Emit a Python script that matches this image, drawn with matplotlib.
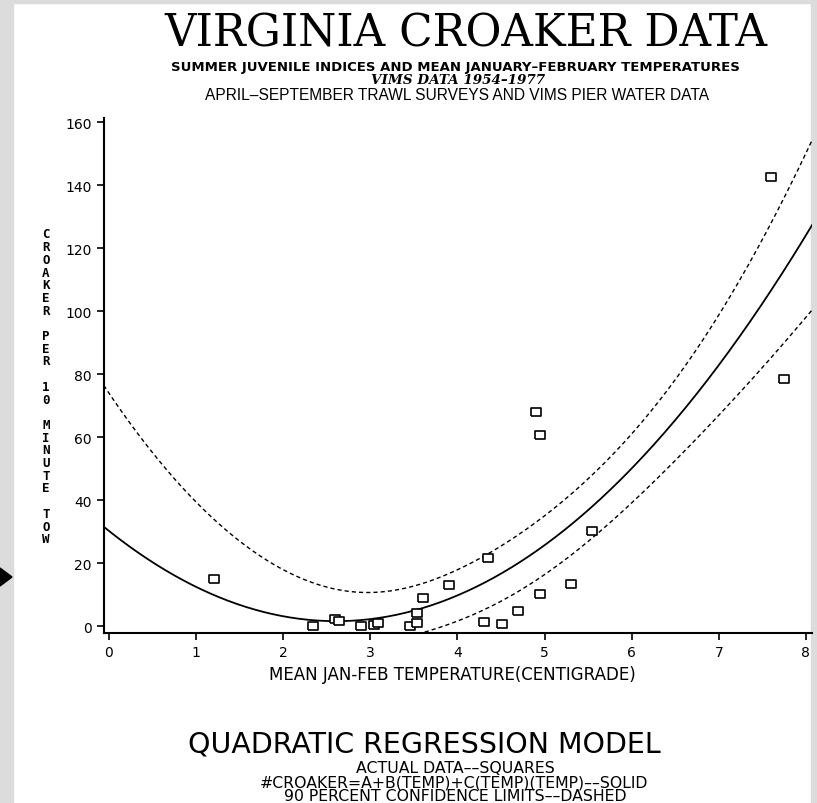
import numpy as np
import matplotlib
matplotlib.use('Agg')
import matplotlib.pyplot as plt
from matplotlib.patches import Rectangle, Polygon

# mean jan-feb temperature (C) and croaker per 10 minute tow
temp = [1.20, 2.34, 2.59, 2.64, 2.89, 3.04, 3.09, 3.45, 3.54, 3.54, 3.60, 3.90,
        4.30, 4.35, 4.51, 4.70, 4.90, 4.95, 4.95, 5.30, 5.55, 7.60, 7.75]
croaker = [14.9, 0.0, 2.1, 1.6, 0.0, 0.4, 1.0, 0.1, 1.0, 4.2, 8.8, 13.1,
           1.2, 21.6, 0.6, 4.7, 68.0, 60.7, 10.1, 13.4, 30.1, 142.5, 78.4]
xticks = [0, 1, 2, 3, 4, 5, 6, 7, 8]
yticks = [0, 20, 40, 60, 80, 100, 120, 140, 160]
t90 = 1.721  # two sided 90 percent t value, n-3 dof

W, H = 817, 804
fig = plt.figure(figsize=(W / 100, H / 100), dpi=100)
fig.patch.set_facecolor('white')

# grey scan border and the little arrow on the left
grey = '#dcdcdc'
fig.add_artist(Rectangle((0, 0), 13 / W, 1, transform=fig.transFigure, color=grey, zorder=0))
fig.add_artist(Rectangle((811 / W, 0), 6 / W, 1, transform=fig.transFigure, color=grey, zorder=0))
fig.add_artist(Rectangle((0, 1 - 4 / H), 1, 4 / H, transform=fig.transFigure, color=grey, zorder=0))
fig.add_artist(Polygon([[0, 1 - 569 / H], [12 / W, 1 - 578 / H], [0, 1 - 587 / H]],
                       closed=True, transform=fig.transFigure, color='black'))

ax = fig.add_axes([104 / W, 1 - 634 / H, 708 / W, 515 / H])
ax.set_facecolor('none')

# quadratic fit and 90% confidence limits
tx = np.array(temp)
cy = np.array(croaker)
X = np.vstack([np.ones_like(tx), tx, tx ** 2]).T
coef, res, rk, sv = np.linalg.lstsq(X, cy, rcond=None)
n = len(tx)
s2 = np.sum((cy - X @ coef) ** 2) / (n - 3)
cov = s2 * np.linalg.inv(X.T @ X)
xs = np.linspace(-0.06, 8.07, 400)
Xs = np.vstack([np.ones_like(xs), xs, xs ** 2]).T
fit = Xs @ coef
se = np.sqrt(np.einsum('ij,jk,ik->i', Xs, cov, Xs))

ax.plot(xs, fit, color='black', lw=1.3)
ax.plot(xs, fit + t90 * se, color='black', lw=1.0, ls=(0, (3, 2.2)))
ax.plot(xs, fit - t90 * se, color='black', lw=1.0, ls=(0, (3, 2.2)))

box = [(-1.25, -1), (1.25, -1), (1.25, 1), (-1.25, 1), (-1.25, -1)]
ax.plot(temp, croaker, ls='none', marker=box, ms=7.5, mfc='white', mec='black', mew=1.2, zorder=5)

ax.set_xlim(-0.057, 8.07)
ax.set_ylim(-2.2, 161.3)
ax.set_xticks(xticks)
ax.set_yticks(yticks)
ax.spines['top'].set_visible(False)
ax.spines['right'].set_visible(False)
ax.spines['left'].set_linewidth(1.5)
ax.spines['bottom'].set_linewidth(1.5)
ax.tick_params(direction='out', length=5, width=1.2, labelsize=10, pad=4)
for lab in ax.get_xticklabels() + ax.get_yticklabels():
    lab.set_family('DejaVu Sans')

# stacked y label
ylab = 'CROAKER PER 10 MINUTE TOW'
for i, ch in enumerate(ylab):
    fig.text(46 / W, 1 - (235 + i * 12.7) / H, ch, ha='center', va='center',
             family='DejaVu Sans Mono', fontsize=9, weight='bold')

fig.text(452 / W, 1 - 675 / H, 'MEAN JAN-FEB TEMPERATURE(CENTIGRADE)', ha='center', va='center',
         family='DejaVu Sans', fontsize=12)

# header
fig.text(466 / W, 1 - 34 / H, 'VIRGINIA CROAKER DATA', ha='center', va='center',
         family='DejaVu Serif', fontsize=31.5)
fig.text(455 / W, 1 - 67 / H, 'SUMMER JUVENILE INDICES AND MEAN JANUARY\u2013FEBRUARY TEMPERATURES',
         ha='center', va='center', family='DejaVu Sans', weight='bold', fontsize=9.5)
fig.text(458 / W, 1 - 81 / H, 'VIMS DATA 1954\u20131977', ha='center', va='center',
         family='DejaVu Serif', weight='bold', style='italic', fontsize=9.7)
fig.text(457 / W, 1 - 95 / H, 'APRIL\u2013SEPTEMBER TRAWL SURVEYS AND VIMS PIER WATER DATA',
         ha='center', va='center', family='Liberation Sans', fontsize=11.2)

# footer
fig.text(424 / W, 1 - 745 / H, 'QUADRATIC REGRESSION MODEL', ha='center', va='center',
         family='DejaVu Sans', fontsize=20.5)
fig.text(455 / W, 1 - 769 / H, 'ACTUAL DATA\u2013\u2013SQUARES', ha='center', va='center',
         family='DejaVu Sans', fontsize=11.3)
fig.text(454 / W, 1 - 783 / H, '#CROAKER=A+B(TEMP)+C(TEMP)(TEMP)\u2013\u2013SOLID', ha='center', va='center',
         family='DejaVu Sans', fontsize=11.3)
fig.text(455 / W, 1 - 797 / H, '90 PERCENT CONFIDENCE LIMITS\u2013\u2013DASHED', ha='center', va='center',
         family='DejaVu Sans', fontsize=11.3)

fig.savefig('out.png', dpi=100)
